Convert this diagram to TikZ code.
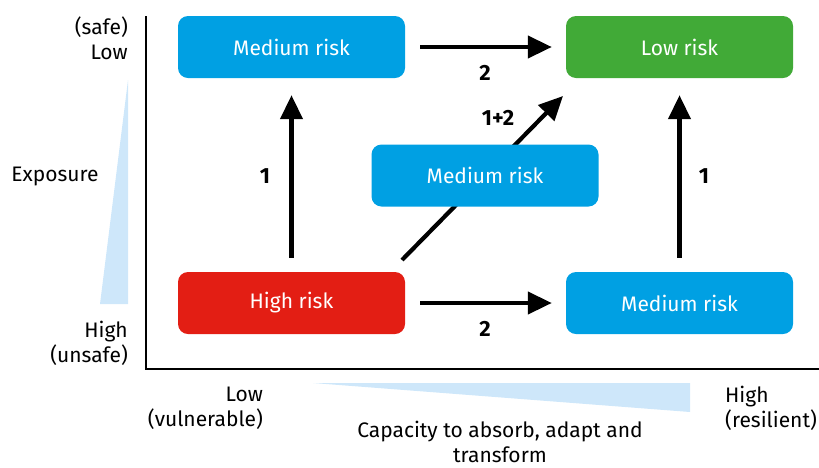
\documentclass[tikz,border=0pt]{standalone}
\usepackage{fontspec}
\setmainfont{Fira Sans}
\usetikzlibrary{arrows.meta}
\definecolor{rblue}{RGB}{0,160,227}
\definecolor{rgreen}{RGB}{65,170,55}
\definecolor{rred}{RGB}{227,30,20}
\definecolor{wedge}{RGB}{206,231,250}
\tikzset{
  riskbox/.style={rounded corners=10pt, minimum width=227pt, minimum height=62pt, inner sep=0pt, text=white, font=\fontsize{21}{24}\selectfont},
  flow/.style={line width=4.2pt, -{Triangle[length=24pt,width=22pt]}},
  steplabel/.style={font=\bfseries\fontsize{22}{24}\selectfont},
  axislabel/.style={font=\fontsize{21}{25}\selectfont, inner sep=0pt},
}
\begin{document}
\begin{tikzpicture}[x=1pt,y=-1pt]
\useasboundingbox (0,0) rectangle (819,467);
% wedges
\fill[wedge] (128,80) -- (128,304) -- (100,304) -- cycle;
\fill[wedge] (313,383) -- (690,383) -- (690,412) -- cycle;
% axes
\draw[line width=1.2pt] (146,16) -- (146,369) -- (819,369);
% axis labels
\node[axislabel, align=right, anchor=east] (safe) at (128,38) {(safe)\\Low};
\node[axislabel, anchor=center] (expo) at (55,176) {Exposure};
\node[axislabel, align=right, anchor=east] (unsafe) at (128,343) {High\\(unsafe)};
\node[axislabel, align=right, anchor=east] (vuln) at (263,408) {Low\\(vulnerable)};
\node[axislabel, align=left, anchor=west] (resil) at (725,408) {High\\(resilient)};
\node[axislabel, align=center] (cap) at (500,442) {Capacity to absorb, adapt and\\transform};
% diagonal arrow (drawn before boxes so the centre box overlaps it)
\coordinate (dA) at (402,260);
\coordinate (dB) at (563,96);
\draw[flow] (dA) -- (dB);
% boxes
\node[riskbox, fill=rblue] (mtl) at (291.5,47) {Medium risk};
\node[riskbox, fill=rgreen] (low) at (679.5,47) {Low risk};
\node[riskbox, fill=rblue] (mc) at (485,175.5) {Medium risk};
\node[riskbox, fill=rred] (high) at (291.5,303) {High risk};
\node[riskbox, fill=rblue] (mbr) at (679.5,303) {Medium risk};
% connectors
\draw[flow] ([xshift=15pt]mtl.east) -- ([xshift=-14pt]low.west);
\draw[flow] ([xshift=15pt]high.east) -- ([xshift=-14pt]mbr.west);
\draw[flow] ([yshift=14pt]high.north) -- ([yshift=-17pt]mtl.south);
\draw[flow] ([yshift=14pt]mbr.north) -- ([yshift=-17pt]low.south);
% step labels
\node[steplabel] (l2a) at (485,73) {2};
\node[steplabel] (l2b) at (485,329) {2};
\node[steplabel] (l1a) at (265,176) {1};
\node[steplabel] (l1b) at (704,176) {1};
\node[steplabel] (l12) at (498,118) {1+2};
\end{tikzpicture}
\end{document}
